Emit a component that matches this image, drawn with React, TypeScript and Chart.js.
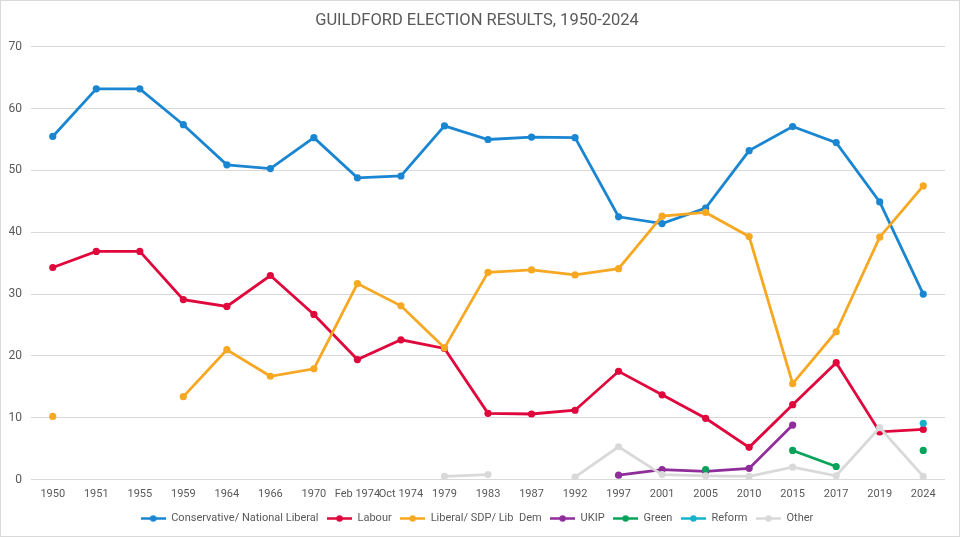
import { useEffect, useRef } from "react";
import { Chart, registerables } from "chart.js";
Chart.register(...registerables);

const categories = ["1950", "1951", "1955", "1959", "1964", "1966", "1970", "Feb 1974", "Oct 1974", "1979", "1983", "1987", "1992", "1997", "2001", "2005", "2010", "2015", "2017", "2019", "2024"];
const conservative = [55.5, 63.2, 63.2, 57.4, 50.9, 50.3, 55.3, 48.8, 49.1, 57.2, 55.0, 55.4, 55.3, 42.5, 41.4, 43.9, 53.2, 57.1, 54.5, 44.9, 30.0];
const labour = [34.3, 36.9, 36.9, 29.1, 28.0, 33.0, 26.7, 19.4, 22.6, 21.2, 10.7, 10.6, 11.2, 17.5, 13.7, 9.9, 5.2, 12.1, 18.9, 7.7, 8.1];
const libDem = [10.2, null, null, 13.4, 21.0, 16.7, 17.9, 31.7, 28.1, 21.3, 33.5, 33.9, 33.1, 34.1, 42.6, 43.2, 39.3, 15.5, 23.9, 39.2, 47.5];
const ukip = [null, null, null, null, null, null, null, null, null, null, null, null, null, 0.7, 1.6, 1.3, 1.8, 8.8, null, null, null];
const green = [null, null, null, null, null, null, null, null, null, null, null, null, null, null, null, 1.6, null, 4.7, 2.1, null, 4.7];
const reform = [null, null, null, null, null, null, null, null, null, null, null, null, null, null, null, null, null, null, null, null, 9.1];
const other = [null, null, null, null, null, null, null, null, null, 0.5, 0.8, null, 0.4, 5.3, 0.8, 0.6, 0.5, 2.0, 0.6, 8.4, 0.5];

const seriesNames = ["Conservative/ National Liberal", "Labour", "Liberal/ SDP/ Lib  Dem", "UKIP", "Green", "Reform", "Other"];
const seriesColors = ["#1A86D2", "#E0073D", "#F7A823", "#8F2E9B", "#07A35A", "#19B2CC", "#D9D9D9"];
const seriesValues = [conservative, labour, libDem, ukip, green, reform, other];

const FONT = "Roboto, 'Noto Sans', sans-serif";
const TEXT = "#595959";

function legendIcon(color: string) {
  const c = document.createElement("canvas");
  c.width = 25;
  c.height = 9;
  const ctx = c.getContext("2d")!;
  ctx.strokeStyle = color;
  ctx.lineWidth = 2.5;
  ctx.beginPath();
  ctx.moveTo(0, 4.5);
  ctx.lineTo(25, 4.5);
  ctx.stroke();
  ctx.fillStyle = color;
  ctx.beginPath();
  ctx.arc(12.5, 4.5, 3.2, 0, Math.PI * 2);
  ctx.fill();
  return c;
}

export default function App() {
  const ref = useRef<HTMLCanvasElement>(null);
  useEffect(() => {
    if (!ref.current) return;
    const icons = seriesColors.map(legendIcon);
    const chart = new Chart(ref.current, {
      type: "line",
      data: {
        labels: categories,
        datasets: seriesNames.map((name, i) => ({
          label: name,
          data: seriesValues[i],
          borderColor: seriesColors[i],
          backgroundColor: seriesColors[i],
          pointBackgroundColor: seriesColors[i],
          pointBorderColor: seriesColors[i],
          borderWidth: 2.8,
          pointRadius: 3.6,
          pointBorderWidth: 0,
          pointHoverRadius: 3.6,
          tension: 0,
          spanGaps: false,
          order: -i,
        })),
      },
      options: {
        animation: false,
        responsive: false,
        maintainAspectRatio: false,
        layout: { padding: { left: 8, right: 14, top: 6, bottom: 2 } },
        plugins: {
          title: {
            display: true,
            text: "GUILDFORD ELECTION RESULTS, 1950-2024",
            color: TEXT,
            font: { family: FONT, size: 16.5, weight: "normal" },
            padding: { top: 4, bottom: 16 },
          },
          legend: {
            position: "bottom",
            labels: {
              color: TEXT,
              font: { family: FONT, size: 11 },
              usePointStyle: true,
              pointStyleWidth: 25,
              padding: 8.5,
              generateLabels: () =>
                seriesNames.map((name, i) => ({
                  text: name,
                  fillStyle: seriesColors[i],
                  strokeStyle: seriesColors[i],
                  lineWidth: 0,
                  pointStyle: icons[i],
                  hidden: false,
                  datasetIndex: i,
                  fontColor: TEXT,
                })),
            },
          },
          tooltip: { enabled: false },
        },
        scales: {
          x: {
            offset: true,
            grid: { display: false, drawTicks: false },
            border: { display: false },
            afterFit: (s: any) => {
              s.height = 25;
            },
            ticks: {
              color: TEXT,
              font: { family: FONT, size: 11 },
              maxRotation: 0,
              minRotation: 0,
              autoSkip: false,
              padding: 8,
            },
          },
          y: {
            min: 0,
            max: 70,
            afterFit: (s: any) => {
              s.width = 22;
            },
            grid: { color: "#D9D9D9", lineWidth: 1, drawTicks: false },
            border: { display: false },
            ticks: {
              stepSize: 10,
              color: TEXT,
              font: { family: FONT, size: 12 },
              padding: 9,
            },
          },
        },
      },
    } as any);
    return () => chart.destroy();
  }, []);
  return (
    <div
      style={{
        position: "absolute",
        left: 0,
        top: 0,
        width: 960,
        height: 537,
        boxSizing: "border-box",
        border: "1px solid #D9D9D9",
        background: "#fff",
        overflow: "hidden",
      }}
    >
      <canvas ref={ref} width={958} height={535} style={{ display: "block" }} />
    </div>
  );
}
